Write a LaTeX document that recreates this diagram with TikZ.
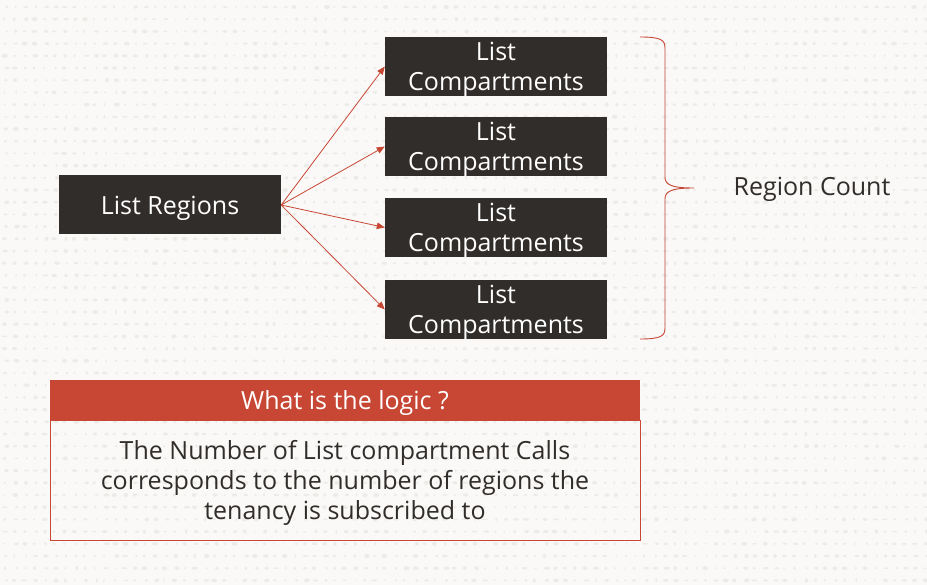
\documentclass[tikz,border=0pt]{standalone}
\usepackage{fontspec}
\setmainfont{Open Sans}
\usepackage{tikz}
\usetikzlibrary{calc,positioning,arrows.meta}
\definecolor{OraDark}{HTML}{312D2A}
\definecolor{OraRed}{HTML}{C74634}
\definecolor{OraPaper}{HTML}{FAF9F7}
\definecolor{OraDot}{HTML}{EDEBE8}

\begin{document}
\begin{tikzpicture}[x=1pt,y=1pt,font=\fontsize{25pt}{30pt}\selectfont,
      dk/.style={fill=OraDark,text=white,minimum width=222pt,minimum height=59pt,align=center,inner sep=0pt,text depth=0pt},
      hd/.style={fill=OraRed,text=white,minimum width=590pt,minimum height=40pt,inner sep=0pt,text depth=0pt},
      bd/.style={draw=OraRed,line width=0.8pt,text=OraDark,minimum width=590pt,minimum height=120pt,align=center,inner sep=0pt,text depth=0pt},
      ar/.style={-{Triangle[length=8pt,width=6.5pt]},line width=0.8pt,color=OraRed},
      br/.style={draw=OraRed,line width=0.9pt}]
      % paper and dotted texture
      \useasboundingbox (0,0) rectangle (927,-585);
      \fill[OraPaper] (0,0) rectangle (927,-585);
      \pgfmathsetseed{11}
      \foreach \r in {0,...,47}{
        \foreach \c in {0,...,92}{
          \fill[OraDot] ({\c*10+4+rnd*3},{-\r*12.2-7}) ellipse ({0.8+rnd*2.2} and {0.8+rnd*1.3});
        }
      }
      % calls
      \node[dk] (reg) at (170,-205) {List Regions};
      \node[dk] (c1) at (496,-66.5) {List\\Compartments};
      \node[dk] (c2) at (496,-146.5) {List\\Compartments};
      \node[dk] (c3) at (496,-227.5) {List\\Compartments};
      \node[dk] (c4) at (496,-309.5) {List\\Compartments};
      \draw[ar] (reg.east) -- (c1.west); \draw[ar] (reg.east) -- (c2.west);
      \draw[ar] (reg.east) -- (c3.west); \draw[ar] (reg.east) -- (c4.west);
      % brace
      \coordinate (bt) at (640,-37); \coordinate (bb) at (640,-339); \coordinate (btip) at (694,-188);
      \draw[br] (bt) .. controls (661,-37) and (665,-40) .. (665,-48) -- (665,-177)
        .. controls (665,-185) and (672,-188) .. (btip)
        .. controls (672,-188) and (665,-191) .. (665,-199) -- (665,-328)
        .. controls (665,-336) and (661,-339) .. (bb);
      \node[text=OraDark,text depth=0pt] (cnt) at (812,-186) {Region Count};
      % logic
      \node[hd] (logic) at (345,-400) {What is the logic ?};
      \node[bd] (why) at (345,-480) {The Number of List compartment Calls\\corresponds to the number of regions the\\tenancy is subscribed to};
    \end{tikzpicture}
\end{document}
